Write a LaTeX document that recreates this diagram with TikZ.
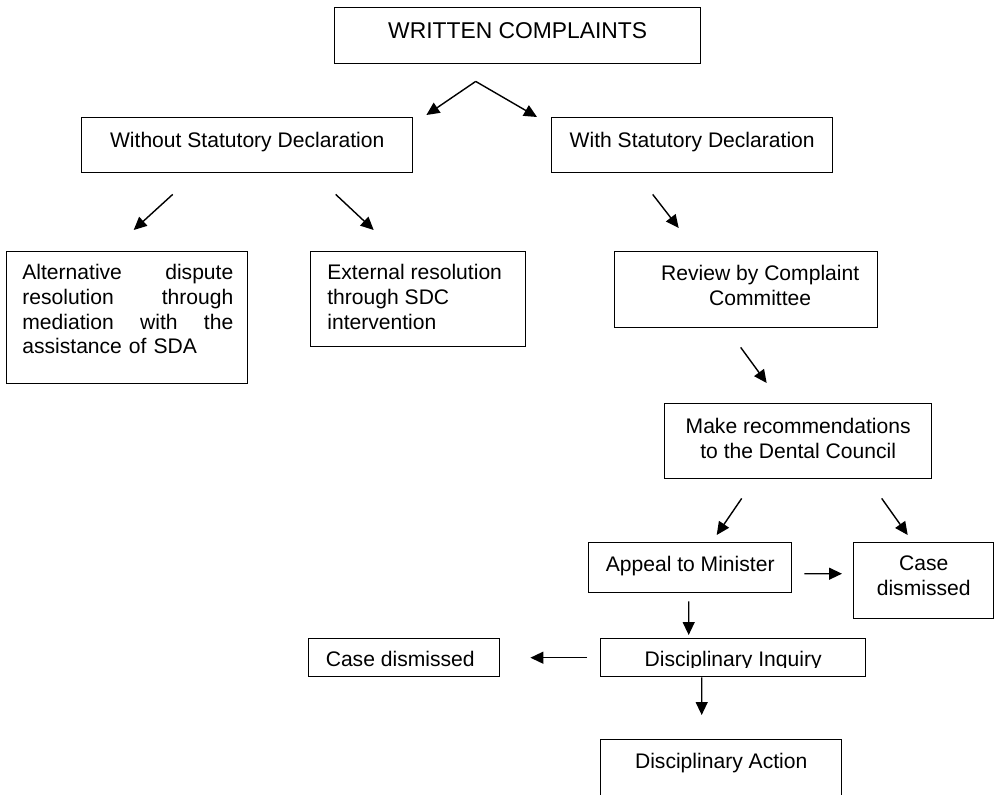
\documentclass[tikz,border=0pt]{standalone}
\usepackage{fontspec}
\setmainfont{Liberation Sans}
\usetikzlibrary{arrows.meta}

\tikzset{
	box/.style={draw, line width=.8pt, anchor=north west, inner sep=0pt},
	txt/.style={anchor=north, inner sep=0pt, font=\fontsize{12}{14.2}\selectfont},
	link/.style={->, line width=.8pt}
}

\begin{document}
\begin{tikzpicture}[>={Triangle[length=.26cm,width=.24cm]}]
			\useasboundingbox (0, 0) rectangle (19.96, -15.90);
			% boxes
			\node[box, minimum width=7.32cm, minimum height=1.12cm] (wc) at (6.68, -.14) {};
			\node[txt, font=\fontsize{13}{15}\selectfont] (wct) at ([yshift=-.30cm]wc.north) {WRITTEN COMPLAINTS};
			\node[box, minimum width=6.62cm, minimum height=1.10cm] (nostat) at (1.62, -2.34) {};
			\node[txt] (nostatt) at ([yshift=-.29cm]nostat.north) {Without Statutory Declaration};
			\node[box, minimum width=5.62cm, minimum height=1.10cm] (stat) at (11.02, -2.34) {};
			\node[txt] (statt) at ([yshift=-.29cm]stat.north) {With Statutory Declaration};
			\node[box, minimum width=4.82cm, minimum height=2.64cm] (alt) at (.12, -5.02) {};
			\node[txt, anchor=north west, text width=4.22cm, align=left] (altt) at ([shift={(.32, -.25)}]alt.north west)
				{Alternative\hfill dispute\\resolution\hfill through\\mediation\hfill with\hfill the\\assistance of SDA};
			\node[box, minimum width=4.30cm, minimum height=1.90cm] (ext) at (6.20, -5.02) {};
			\node[txt, anchor=north west, align=left] (extt) at ([shift={(.34, -.25)}]ext.north west)
				{External resolution\\through SDC\\intervention};
			\node[box, minimum width=5.26cm, minimum height=1.52cm] (rev) at (12.28, -5.02) {};
			\node[txt, align=center] (revt) at ([shift={(.28, -.27)}]rev.north) {Review by Complaint\\Committee};
			\node[box, minimum width=5.34cm, minimum height=1.50cm] (rec) at (13.28, -8.06) {};
			\node[txt, align=center] (rect) at ([yshift=-.29cm]rec.north) {Make recommendations\\to the Dental Council};
			\node[box, minimum width=4.06cm, minimum height=1.00cm] (app) at (11.76, -10.84) {};
			\node[txt] (appt) at ([yshift=-.27cm]app.north) {Appeal to Minister};
			\node[box, minimum width=2.80cm, minimum height=1.52cm] (cd1) at (17.06, -10.84) {};
			\node[txt, align=center] (cd1t) at ([yshift=-.27cm]cd1.north) {Case\\dismissed};
			\node[box, minimum width=5.30cm, minimum height=.76cm] (inq) at (12.00, -12.76) {};
			\begin{scope}
				\clip (inq.north west) rectangle ([yshift=-.58cm]inq.north east);
				\node[txt] (inqt) at ([yshift=-.25cm]inq.north) {Disciplinary Inquiry};
			\end{scope}
			\node[box, minimum width=3.82cm, minimum height=.76cm] (cd2) at (6.16, -12.76) {};
			\node[txt] (cd2t) at ([shift={(-.08, -.25)}]cd2.north) {Case dismissed};
			\node[box, minimum width=4.82cm, minimum height=1.60cm] (act) at (12.00, -14.78) {};
			\node[txt] (actt) at ([yshift=-.27cm]act.north) {Disciplinary Action};
			% arrows
			\coordinate (split) at ([shift={(-.84, -.34)}]wc.south);
			\draw[link] (split) -- ([shift={(.26, .04)}]nostat.north east);
			\draw[link] (split) -- ([shift={(-.28, 0)}]stat.north west);
			\draw[link] ([shift={(-1.49, -.42)}]nostat.south) -- ([shift={(.13, .42)}]alt.north);
			\draw[link] ([shift={(1.77, -.42)}]nostat.south) -- ([shift={(-.89, .42)}]ext.north);
			\draw[link] ([shift={(-.79, -.42)}]stat.south) -- ([shift={(-1.35, .46)}]rev.north);
			\draw[link] ([shift={(-.11, -.38)}]rev.south) -- ([shift={(-.63, .40)}]rec.north);
			\draw[link] ([shift={(-1.13, -.38)}]rec.south) -- ([shift={(.53, .14)}]app.north);
			\draw[link] ([shift={(1.67, -.38)}]rec.south) -- ([shift={(-.32, .14)}]cd1.north);
			\draw[link] ([shift={(.24, -.12)}]app.east) -- ([shift={(-.22, .14)}]cd1.west);
			\draw[link] ([shift={(-.03, -.16)}]app.south) -- ([shift={(-.89, .06)}]inq.north);
			\draw[link] ([shift={(-.26, 0)}]inq.west) -- ([shift={(.60, 0)}]cd2.east);
			\draw[link] ([shift={(-.63, 0)}]inq.south) -- ([shift={(-.39, .48)}]act.north);
		\end{tikzpicture}
\end{document}
